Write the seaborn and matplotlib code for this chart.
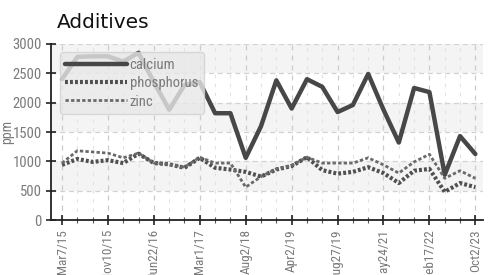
import numpy as np
import pandas as pd
import matplotlib
matplotlib.use("Agg")
import matplotlib.pyplot as plt
from matplotlib import font_manager
import seaborn as sns

# sample dates (one point per sample), only every third is labelled
tick_labels = ["Mar7/15", "Nov10/15", "Jun22/16", "Mar1/17", "Aug2/18",
               "Apr2/19", "Aug27/19", "May24/21", "Feb17/22", "Oct2/23"]
n_points = 28

calcium = [2400, 2780, 2790, 2790, 2700, 2850, 2350, 1880, 2300, 2350,
           1820, 1820, 1060, 1600, 2380, 1900, 2400, 2270, 1840, 1960,
           2490, 1880, 1320, 2250, 2180, 770, 1430, 1125]
phosphorus = [940, 1040, 990, 1020, 970, 1130, 970, 950, 890, 1060,
              890, 860, 820, 740, 860, 920, 1070, 850, 790, 820,
              900, 800, 630, 840, 870, 480, 630, 560]
zinc = [970, 1180, 1160, 1140, 1060, 1140, 970, 950, 900, 1070,
        970, 970, 560, 740, 870, 930, 1070, 970, 970, 970,
        1060, 940, 800, 990, 1120, 710, 840, 710]

df = pd.DataFrame({"idx": np.arange(n_points), "calcium": calcium,
                   "phosphorus": phosphorus, "zinc": zinc})

sns.set_style("white")

# pick a narrow face for the axis text, if one is around
installed = {f.name for f in font_manager.fontManager.ttflist}
narrow_pick = "DejaVu Sans"
for cand in ["Roboto Condensed", "Archivo Narrow", "PT Sans Narrow",
             "Liberation Sans Narrow", "Encode Sans Condensed"]:
    if cand in installed:
        narrow_pick = cand
        break
narrow = [narrow_pick, "DejaVu Sans"]
grey_txt = "#7a7a7a"

fig = plt.figure(figsize=(4.88, 2.75), dpi=100)
ax = fig.add_axes([51 / 488, 55 / 275, 432 / 488, 176 / 275])

# alternating bands
for lo in (500, 1500, 2500):
    ax.axhspan(lo, lo + 500, color="#f4f4f4", zorder=0, lw=0)

sns.lineplot(data=df, x="idx", y="calcium", ax=ax, color="#474747", lw=3.2,
             label="calcium", zorder=3)
sns.lineplot(data=df, x="idx", y="phosphorus", ax=ax, color="#505050", lw=3.0,
             linestyle=(0, (0.7, 0.5)), label="phosphorus", zorder=3)
sns.lineplot(data=df, x="idx", y="zinc", ax=ax, color="#6a6a6a", lw=2.0,
             linestyle=(0, (1.2, 0.8)), label="zinc", zorder=3)

ax.set_xlim(-0.72, 27.5)
ax.set_ylim(0, 3000)
ax.set_xticks(np.arange(0, n_points, 3))
ax.set_xticks(np.arange(n_points), minor=True)
ax.set_xticklabels(tick_labels, rotation=90, family=narrow, fontsize=9.5,
                   color=grey_txt, va="top")
ax.set_yticks([0, 500, 1000, 1500, 2000, 2500, 3000])
ax.set_yticklabels(["0", "500", "1000", "1500", "2000", "2500", "3000"],
                   family=narrow, fontsize=10.5, color=grey_txt)
ax.tick_params(axis="both", which="major", direction="inout", length=7,
               width=1.2, color="#222222", pad=3)
ax.tick_params(axis="x", which="minor", direction="inout", length=4,
               width=0.8, color="#555555")
ax.tick_params(axis="x", which="both", bottom=True)
ax.tick_params(axis="y", left=True)

ax.grid(axis="x", which="major", ls=(0, (4, 4)), color="#cccccc", lw=0.9)
ax.grid(axis="x", which="minor", ls=(0, (3, 5)), color="#e2e2e2", lw=0.8)
ax.grid(axis="y", which="major", ls=(0, (4, 3)), color="#d2d2d2", lw=0.9)
ax.set_axisbelow(True)

for s in ("top", "right"):
    ax.spines[s].set_visible(False)
for s in ("left", "bottom"):
    ax.spines[s].set_color("#222222")
    ax.spines[s].set_linewidth(1.3)

ax.set_xlabel("")
ax.set_ylabel("ppm", family=narrow, fontsize=10, color=grey_txt)
ax.yaxis.set_label_coords(-0.085, 0.5)

leg = ax.legend(loc="upper left", bbox_to_anchor=(0.02, 0.955), frameon=True,
                borderaxespad=0, handlelength=4.2, handletextpad=0.2,
                labelspacing=0.3, borderpad=0.4, fancybox=True,
                prop={"family": narrow, "size": 10.5})
leg.get_frame().set_facecolor("#e8e8e8")
leg.get_frame().set_alpha(0.8)
leg.get_frame().set_edgecolor("#d0d0d0")
for t in leg.get_texts():
    t.set_color(grey_txt)

fig.text(57 / 488, 1 - 28 / 275, "Additives", fontsize=14.5, color="#111111",
         family="DejaVu Sans", va="baseline")

fig.savefig("out.png", dpi=100)
